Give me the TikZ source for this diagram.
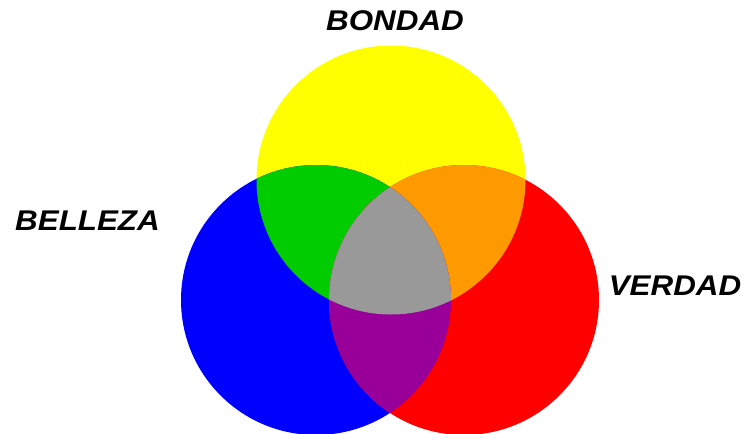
\documentclass[tikz,border=0pt]{standalone}
\usepackage{fontspec}
\setmainfont{Liberation Sans}
\definecolor{cyellow}{RGB}{255,255,0}
\definecolor{cblue}{RGB}{0,0,255}
\definecolor{cred}{RGB}{255,0,0}
\definecolor{cgreen}{RGB}{0,204,0}
\definecolor{corange}{RGB}{255,153,0}
\definecolor{cpurple}{RGB}{153,0,153}
\definecolor{cgray}{RGB}{153,153,153}
\tikzset{lbl/.style={anchor=base, font=\fontsize{28.5}{28.5}\selectfont\bfseries\itshape, inner sep=0pt}}
\begin{document}
\begin{tikzpicture}[x=1pt,y=-1pt]
\useasboundingbox (0,0) rectangle (745,434);
\def\cY{(391,180) circle[radius=134.5]}
\def\cB{(316,300) circle[radius=135]}
\def\cR{(464,300) circle[radius=135]}
\fill[cyellow] \cY;
\fill[cblue] \cB;
\fill[cred] \cR;
\begin{scope}\clip \cY; \fill[cgreen] \cB; \end{scope}
\begin{scope}\clip \cY; \fill[corange] \cR; \end{scope}
\begin{scope}\clip \cB; \fill[cpurple] \cR; \end{scope}
\begin{scope}\clip \cY; \clip \cB; \fill[cgray] \cR; \end{scope}
\node[lbl] (bondad) at (395,30) {\scalebox{1.1}[1]{BONDAD}};
\node[lbl] (belleza) at (87.5,230) {\scalebox{1.1}[1]{BELLEZA}};
\node[lbl] (verdad) at (675,295) {\scalebox{1.1}[1]{VERDAD}};
\end{tikzpicture}
\end{document}
